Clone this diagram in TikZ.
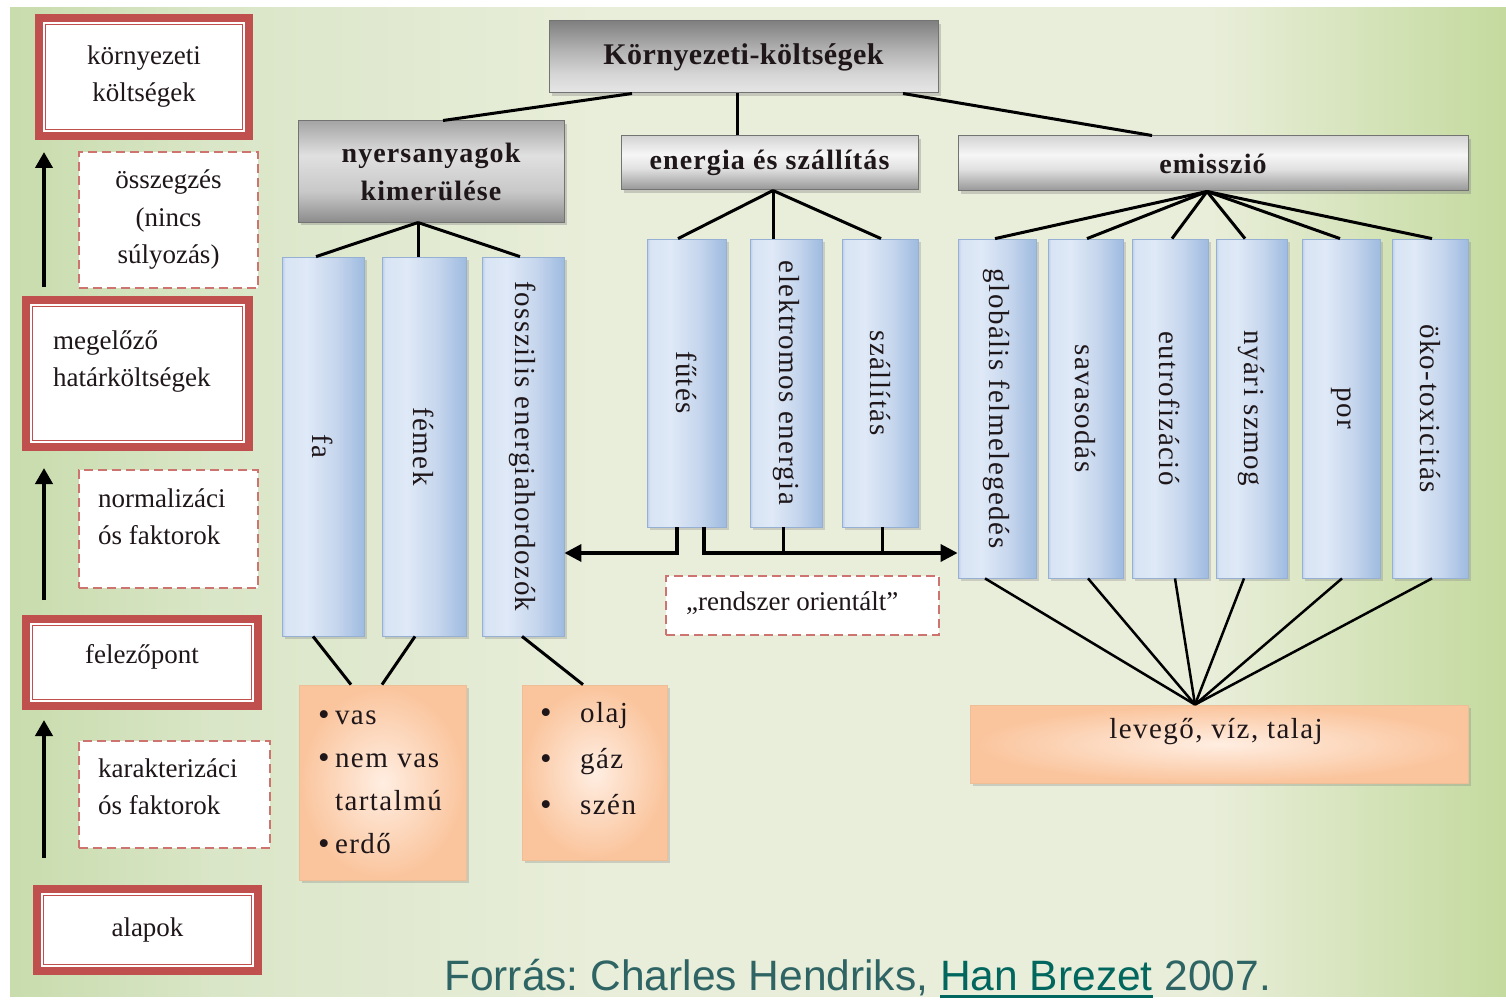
\documentclass[tikz,border=0pt]{standalone}
\usepackage{fontspec}
\usepackage{graphicx}
\setmainfont{Liberation Serif}
\newfontfamily\spacedfont[LetterSpace=5]{Liberation Serif}
\newfontfamily\headfont[LetterSpace=4]{Liberation Serif}
\newfontfamily\titlefont[LetterSpace=1.5]{Liberation Serif}
\newfontfamily\srcfont{Liberation Sans}
\usetikzlibrary{arrows.meta,shadows,calc}

% colours
\definecolor{ink}{RGB}{30,22,25}
\definecolor{framered}{RGB}{192,80,77}
\definecolor{dashred}{RGB}{205,115,112}
\definecolor{headedge}{RGB}{115,115,115}
\definecolor{baredge}{RGB}{150,176,212}
\definecolor{peachedge}{RGB}{238,190,150}
\definecolor{peachin}{RGB}{255,238,226}
\definecolor{peachout}{RGB}{250,196,156}
\definecolor{srcgray}{RGB}{46,100,100}
\definecolor{linkteal}{RGB}{0,102,94}
% blue bars
\definecolor{bar0}{RGB}{185,205,233}
\definecolor{bar1}{RGB}{216,228,244}
\definecolor{bar2}{RGB}{223,233,247}
\definecolor{bar3}{RGB}{198,214,237}
\definecolor{bar4}{RGB}{158,187,224}
% grey headers
\definecolor{tl0}{RGB}{230,230,230}
\definecolor{tl1}{RGB}{214,214,214}
\definecolor{tl2}{RGB}{178,178,178}
\definecolor{tl3}{RGB}{128,128,128}
\definecolor{ha0}{RGB}{140,140,140}
\definecolor{ha1}{RGB}{200,200,200}
\definecolor{ha2}{RGB}{224,224,224}
\definecolor{ha3}{RGB}{165,165,165}
\definecolor{hb0}{RGB}{150,150,150}
\definecolor{hb1}{RGB}{225,225,225}
\definecolor{hb2}{RGB}{246,246,246}
\definecolor{hb3}{RGB}{212,212,212}
% panel
\definecolor{pg0}{RGB}{200,220,172}
\definecolor{pg1}{RGB}{218,230,200}
\definecolor{pg2}{RGB}{233,238,218}
\definecolor{pg3}{RGB}{196,218,158}

\pgfdeclarehorizontalshading{barshade}{100bp}{color(0bp)=(bar0); color(25bp)=(bar0); color(27bp)=(bar1); color(40bp)=(bar2); color(58bp)=(bar3); color(75bp)=(bar4); color(100bp)=(bar4)}
\pgfdeclareverticalshading{titleshade}{100bp}{color(0bp)=(tl0); color(25bp)=(tl0); color(38bp)=(tl1); color(55bp)=(tl2); color(75bp)=(tl3); color(100bp)=(tl3)}
\pgfdeclareverticalshading{headA}{100bp}{color(0bp)=(ha0); color(25bp)=(ha0); color(40bp)=(ha1); color(58bp)=(ha2); color(75bp)=(ha3); color(100bp)=(ha3)}
\pgfdeclareverticalshading{headB}{100bp}{color(0bp)=(hb0); color(25bp)=(hb0); color(45bp)=(hb1); color(58bp)=(hb2); color(75bp)=(hb3); color(100bp)=(hb3)}
\pgfdeclarehorizontalshading{panelshade}{100bp}{color(0bp)=(pg0); color(25bp)=(pg0); color(32bp)=(pg1); color(45bp)=(pg2); color(65bp)=(pg2); color(75bp)=(pg3); color(100bp)=(pg3)}

\newcommand\linkline[1]{\setbox0\hbox{#1}\rlap{\rule[-8pt]{\wd0}{2.6pt}}\box0}
\newcommand\itembullet[1]{\makebox[#1][l]{\raisebox{-0.5pt}{\fontsize{33}{33}\selectfont •}}}

\tikzset{
  redbox/.style={draw=framered, line width=8pt, fill=white, inner sep=0pt, text=ink,
    align=center, font=\fontsize{27}{37}\selectfont,
    path picture={\draw[framered, line width=1.5pt]
      ([shift={(6.5pt,-6.5pt)}]path picture bounding box.north west) rectangle
      ([shift={(-6.5pt,6.5pt)}]path picture bounding box.south east);}},
  dashbox/.style={draw=dashred, line width=2pt, dash pattern=on 9pt off 5pt, fill=white,
    inner sep=0pt, text=ink, align=center, font=\fontsize{27}{37.5}\selectfont},
  notetext/.style={inner sep=0pt, text=ink, align=left, font=\fontsize{27}{37}\selectfont},
  headbox/.style={draw=headedge, line width=1pt, inner sep=0pt, text=ink, align=center,
    drop shadow={shadow xshift=3pt, shadow yshift=-3pt, opacity=0.35}},
  barbox/.style={draw=baredge, line width=0.8pt, shade, shading=barshade, inner sep=0pt,
    text=ink, font=\spacedfont\fontsize{29}{35}\selectfont,
    drop shadow={shadow xshift=3pt, shadow yshift=-3pt, opacity=0.3}},
  peachbox/.style={draw=peachedge, line width=0.8pt, inner color=peachin, outer color=peachout,
    inner sep=0pt, text=ink, drop shadow={shadow xshift=3pt, shadow yshift=-3pt, opacity=0.3}},
  joint/.style={draw=black, line width=3pt},
  fanline/.style={draw=black, line width=2.5pt},
  risearrow/.style={draw=black, line width=4pt, -{Triangle[length=16pt,width=17pt]}},
  busarrow/.style={draw=black, line width=3.5pt, -{Triangle[length=17pt,width=17pt]}}
}

\begin{document}
\begin{tikzpicture}[x=1pt,y=-1pt]
\useasboundingbox (0,0) rectangle (1506,1003);
% page and gradient panel
\fill[white] (0,0) rectangle (1506,1003);
\shade[shading=panelshade] (10,8) rectangle (1506,996);

% ---------- left column: levels of aggregation ----------
\node[redbox, minimum width=210pt, minimum height=118pt] (kor) at (144,77) {környezeti\\költségek};
\node[dashbox, minimum width=179pt, minimum height=136pt] (ossz) at (168.5,220) {összegzés\\(nincs\\súlyozás)};
\node[redbox, minimum width=223pt, minimum height=147pt] (meg) at (137.5,373.5) {};
\node[notetext, anchor=west] (megtxt) at (53,362) {megelőző\\határköltségek};
\node[dashbox, minimum width=179pt, minimum height=118pt] (norm) at (168.5,529) {};
\node[notetext, anchor=west] (normtxt) at (98,517) {normalizáci\\ós faktorok};
\node[redbox, minimum width=232pt, minimum height=87pt] (fel) at (142,662.5) {};
\node[notetext, anchor=base] (feltxt) at (142,663) {felezőpont};
\node[dashbox, minimum width=191pt, minimum height=107pt] (kar) at (174.5,794.5) {};
\node[notetext, anchor=west] (kartxt) at (98,787) {karakterizáci\\ós faktorok};
\node[redbox, minimum width=221pt, minimum height=82pt] (alap) at (147.5,930) {alapok};

\coordinate (rail) at (44,0);
\draw[risearrow, shorten <=9pt, shorten >=12pt] (meg.north -| rail) -- (kor.south -| rail);
\draw[risearrow, shorten <=15pt, shorten >=17pt] (fel.north -| rail) -- (meg.south -| rail);
\draw[risearrow, shorten <=27pt, shorten >=10pt] (alap.north -| rail) -- (fel.south -| rail);

% ---------- headers ----------
\node[headbox, shade, shading=titleshade, minimum width=389pt, minimum height=72pt,
  font=\titlefont\bfseries\fontsize{30}{36}\selectfont] (title) at (743.5,57) {Környezeti-költségek};
\node[headbox, shade, shading=headA, minimum width=266pt, minimum height=101pt,
  font=\headfont\bfseries\fontsize{28}{38}\selectfont] (nyers) at (431,171.5) {nyersanyagok\\kimerülése};
\node[headbox, shade, shading=headB, minimum width=297pt, minimum height=54pt,
  font=\headfont\bfseries\fontsize{28}{34}\selectfont] (energ) at (769.5,163) {energia és szállítás};
\node[headbox, shade, shading=headB, minimum width=510pt, minimum height=55pt,
  font=\headfont\bfseries\fontsize{28}{34}\selectfont] (emis) at (1213,163.5) {emisszió};

\draw[joint] ([xshift=-111.5pt]title.south) -- ([xshift=12pt]nyers.north);
\draw[joint] ([xshift=-6.5pt]title.south) -- ([xshift=-32.5pt]energ.north);
\draw[joint] ([xshift=159.5pt]title.south) -- ([xshift=-61pt]emis.north);

% ---------- blue category bars ----------
\node[barbox, minimum width=82pt, minimum height=379pt] (fa) at (323,446.5) {\rotatebox{-90}{fa}};
\node[barbox, minimum width=84pt, minimum height=379pt] (fem) at (424,446.5) {\rotatebox{-90}{fémek}};
\node[barbox, minimum width=82pt, minimum height=379pt] (fossz) at (523,446.5) {\rotatebox{-90}{fosszilis energiahordozók}};

\node[barbox, minimum width=79pt, minimum height=288pt] (futes) at (686.5,383) {\rotatebox{-90}{fűtés}};
\node[barbox, minimum width=72pt, minimum height=288pt] (elektr) at (786,383) {\rotatebox{-90}{elektromos energia}};
\node[barbox, minimum width=76pt, minimum height=288pt] (szall) at (880,383) {\rotatebox{-90}{szállítás}};

\node[barbox, minimum width=78pt, minimum height=339pt] (glob) at (997,408.5) {\rotatebox{-90}{globális felmelegedés}};
\node[barbox, minimum width=75pt, minimum height=339pt] (sav) at (1085.5,408.5) {\rotatebox{-90}{savasodás}};
\node[barbox, minimum width=76pt, minimum height=339pt] (eut) at (1170,408.5) {\rotatebox{-90}{eutrofizáció}};
\node[barbox, minimum width=71pt, minimum height=339pt] (nya) at (1251.5,408.5) {\rotatebox{-90}{nyári szmog}};
\node[barbox, minimum width=78pt, minimum height=339pt] (por) at (1341,408.5) {\rotatebox{-90}{por}};
\node[barbox, minimum width=76pt, minimum height=339pt] (oko) at (1430,408.5) {\rotatebox{-90}{öko-toxicitás}};

% header fans
\draw[joint] ([xshift=-13pt]nyers.south) -- ([xshift=-7pt]fa.north);
\draw[joint] ([xshift=-13pt]nyers.south) -- ([xshift=-6pt]fem.north);
\draw[joint] ([xshift=-13pt]nyers.south) -- ([xshift=-3pt]fossz.north);

\draw[joint] ([xshift=3.5pt]energ.south) -- ([xshift=-8.5pt]futes.north);
\draw[joint] ([xshift=3.5pt]energ.south) -- ([xshift=-13pt]elektr.north);
\draw[joint] ([xshift=3.5pt]energ.south) -- ([xshift=1pt]szall.north);

\draw[joint] ([xshift=-6pt]emis.south) -- ([xshift=-2pt]glob.north);
\draw[joint] ([xshift=-6pt]emis.south) -- ([xshift=1.5pt]sav.north);
\draw[joint] ([xshift=-6pt]emis.south) -- ([xshift=2pt]eut.north);
\draw[joint] ([xshift=-6pt]emis.south) -- ([xshift=-6.5pt]nya.north);
\draw[joint] ([xshift=-6pt]emis.south) -- ([xshift=-1pt]por.north);
\draw[joint] ([xshift=-6pt]emis.south) -- ([xshift=2pt]oko.north);

% ---------- system oriented link ----------
\coordinate (bus) at (0,553);
\draw[busarrow] ([xshift=-9.5pt]futes.south) |- (fossz.east |- bus);
\draw[busarrow] ([xshift=17.5pt]futes.south) |- (glob.west |- bus);
\draw[joint] ([xshift=-3pt]elektr.south) -- ([xshift=-3pt]elektr.south |- bus);
\draw[joint] ([xshift=2pt]szall.south) -- ([xshift=2pt]szall.south |- bus);

\node[dashbox, minimum width=273pt, minimum height=59pt] (rend) at (802.5,605.5) {};
\node[notetext, anchor=base west] (rendtxt) at (686,610) {„rendszer orientált”};

% ---------- resource detail boxes ----------
\node[peachbox, minimum width=167pt, minimum height=195pt, text width=129pt, inner xsep=19pt,
  align=left, font=\spacedfont\fontsize{29}{43}\selectfont] (vas) at (382.5,782.5)
  {\itembullet{17pt}vas\\\itembullet{17pt}nem vas\\\makebox[17pt][l]{}tartalmú\\\itembullet{17pt}erdő};
\node[peachbox, minimum width=145pt, minimum height=175pt] (olaj) at (594.5,772.5) {};
\node[notetext, anchor=west, font=\spacedfont\fontsize{29}{46}\selectfont] (olajtxt) at (540,759)
  {\itembullet{40pt}olaj\\\itembullet{40pt}gáz\\\itembullet{40pt}szén};

\draw[joint] ([xshift=-10pt]fa.south) -- ([xshift=-31.5pt]vas.north);
\draw[joint] ([xshift=-9pt]fem.south) -- ([xshift=-0.5pt]vas.north);
\draw[joint] ([xshift=-1pt]fossz.south) -- ([xshift=-11.5pt]olaj.north);

% ---------- receiving media ----------
\node[peachbox, minimum width=498pt, minimum height=78pt] (lev) at (1219,744) {};
\node[notetext, anchor=base, font=\spacedfont\fontsize{29}{35}\selectfont] (levtxt) at (1216,738) {levegő, víz, talaj};

\draw[fanline] ([xshift=-12pt]glob.south) -- ([xshift=-24pt]lev.north);
\draw[fanline] ([xshift=2.5pt]sav.south) -- ([xshift=-24pt]lev.north);
\draw[fanline] ([xshift=5pt]eut.south) -- ([xshift=-24pt]lev.north);
\draw[fanline] ([xshift=-7.5pt]nya.south) -- ([xshift=-24pt]lev.north);
\draw[fanline] ([xshift=1pt]por.south) -- ([xshift=-24pt]lev.north);
\draw[fanline] ([xshift=2pt]oko.south) -- ([xshift=-24pt]lev.north);

% ---------- source ----------
\node[anchor=base west, inner sep=0pt, text=srcgray, font=\srcfont\fontsize{42.5}{50}\selectfont\frenchspacing] (src) at (444,990)
  {Forrás: Charles Hendriks, {\color{linkteal}\linkline{Han Brezet}} 2007.};
\end{tikzpicture}
\end{document}
